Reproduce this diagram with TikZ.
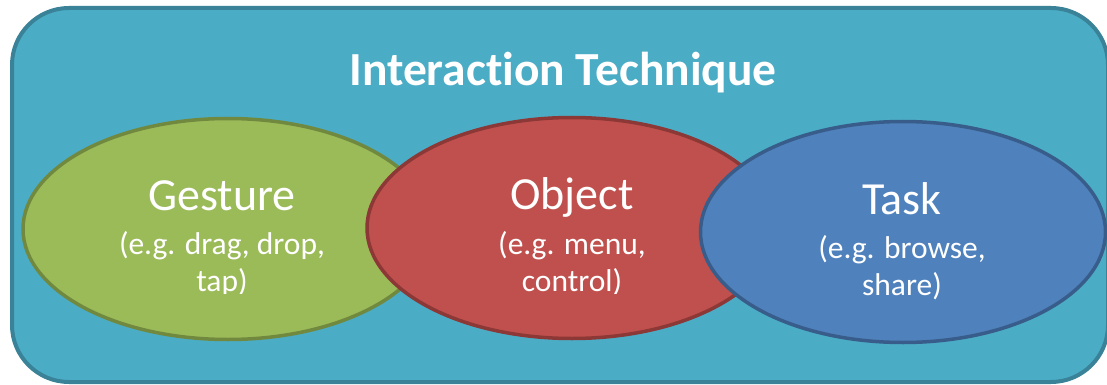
\documentclass[tikz,border=0pt]{standalone}
\usepackage{fontspec}
\setmainfont{Carlito}[Ligatures=NoCommon]
\usepackage{tikz}
\usetikzlibrary{shapes.geometric}

\definecolor{aquafill}{HTML}{4BACC6}
\definecolor{aqualine}{HTML}{3A8297}
\definecolor{greenfill}{HTML}{9BBB59}
\definecolor{greenline}{HTML}{71893F}
\definecolor{redfill}{HTML}{C0504D}
\definecolor{redline}{HTML}{8C3836}
\definecolor{bluefill}{HTML}{4F81BD}
\definecolor{blueline}{HTML}{385D8A}

\begin{document}
\begin{tikzpicture}[x=1pt, y=-1pt,
  blob/.style={ellipse, draw, line width=3.5pt, inner sep=0pt,
    minimum width=410pt, minimum height=221pt},
  head/.style={anchor=base, text=white, font=\fontsize{46}{50}\selectfont},
  sub/.style={anchor=base, text=white, align=center,
    font=\fontsize{31.5}{37}\selectfont}]
\useasboundingbox (0,0) rectangle (1107,385);
% outer box
\fill[aquafill, draw=aqualine, line width=4pt, rounded corners=57pt]
  (12,8) rectangle (1108,382);
\node[anchor=base, text=white, font=\bfseries\fontsize{47.5}{52}\selectfont]
  (title) at (563,86) {Interaction Technique};
% the three ellipses, each one over the one before
\node[blob, fill=greenfill, draw=greenline] (gesture) at (228,229) {};
\node[blob, fill=redfill, draw=redline] (object) at (572,228) {};
\node[blob, fill=bluefill, draw=blueline, minimum width=405pt] (task) at (903,232) {};
% labels (sub texts sit on their last line)
\node[head] (gesturehead) at (222,210) {Gesture};
\node[head] (objecthead) at (572,209) {Object};
\node[head] (taskhead) at (902,214) {Task};
\begin{scope}
  % text boxes cut the last line short
  \clip (0,0) rectangle (800,293);
  \node[sub] (gesturesub) at (222,291) {(e.g. drag, drop,\\tap)};
  \node[sub] (objectsub) at (572,291) {(e.g. menu,\\control)};
\end{scope}
\node[sub] (tasksub) at (902,295) {(e.g. browse,\\share)};
\end{tikzpicture}
\end{document}
